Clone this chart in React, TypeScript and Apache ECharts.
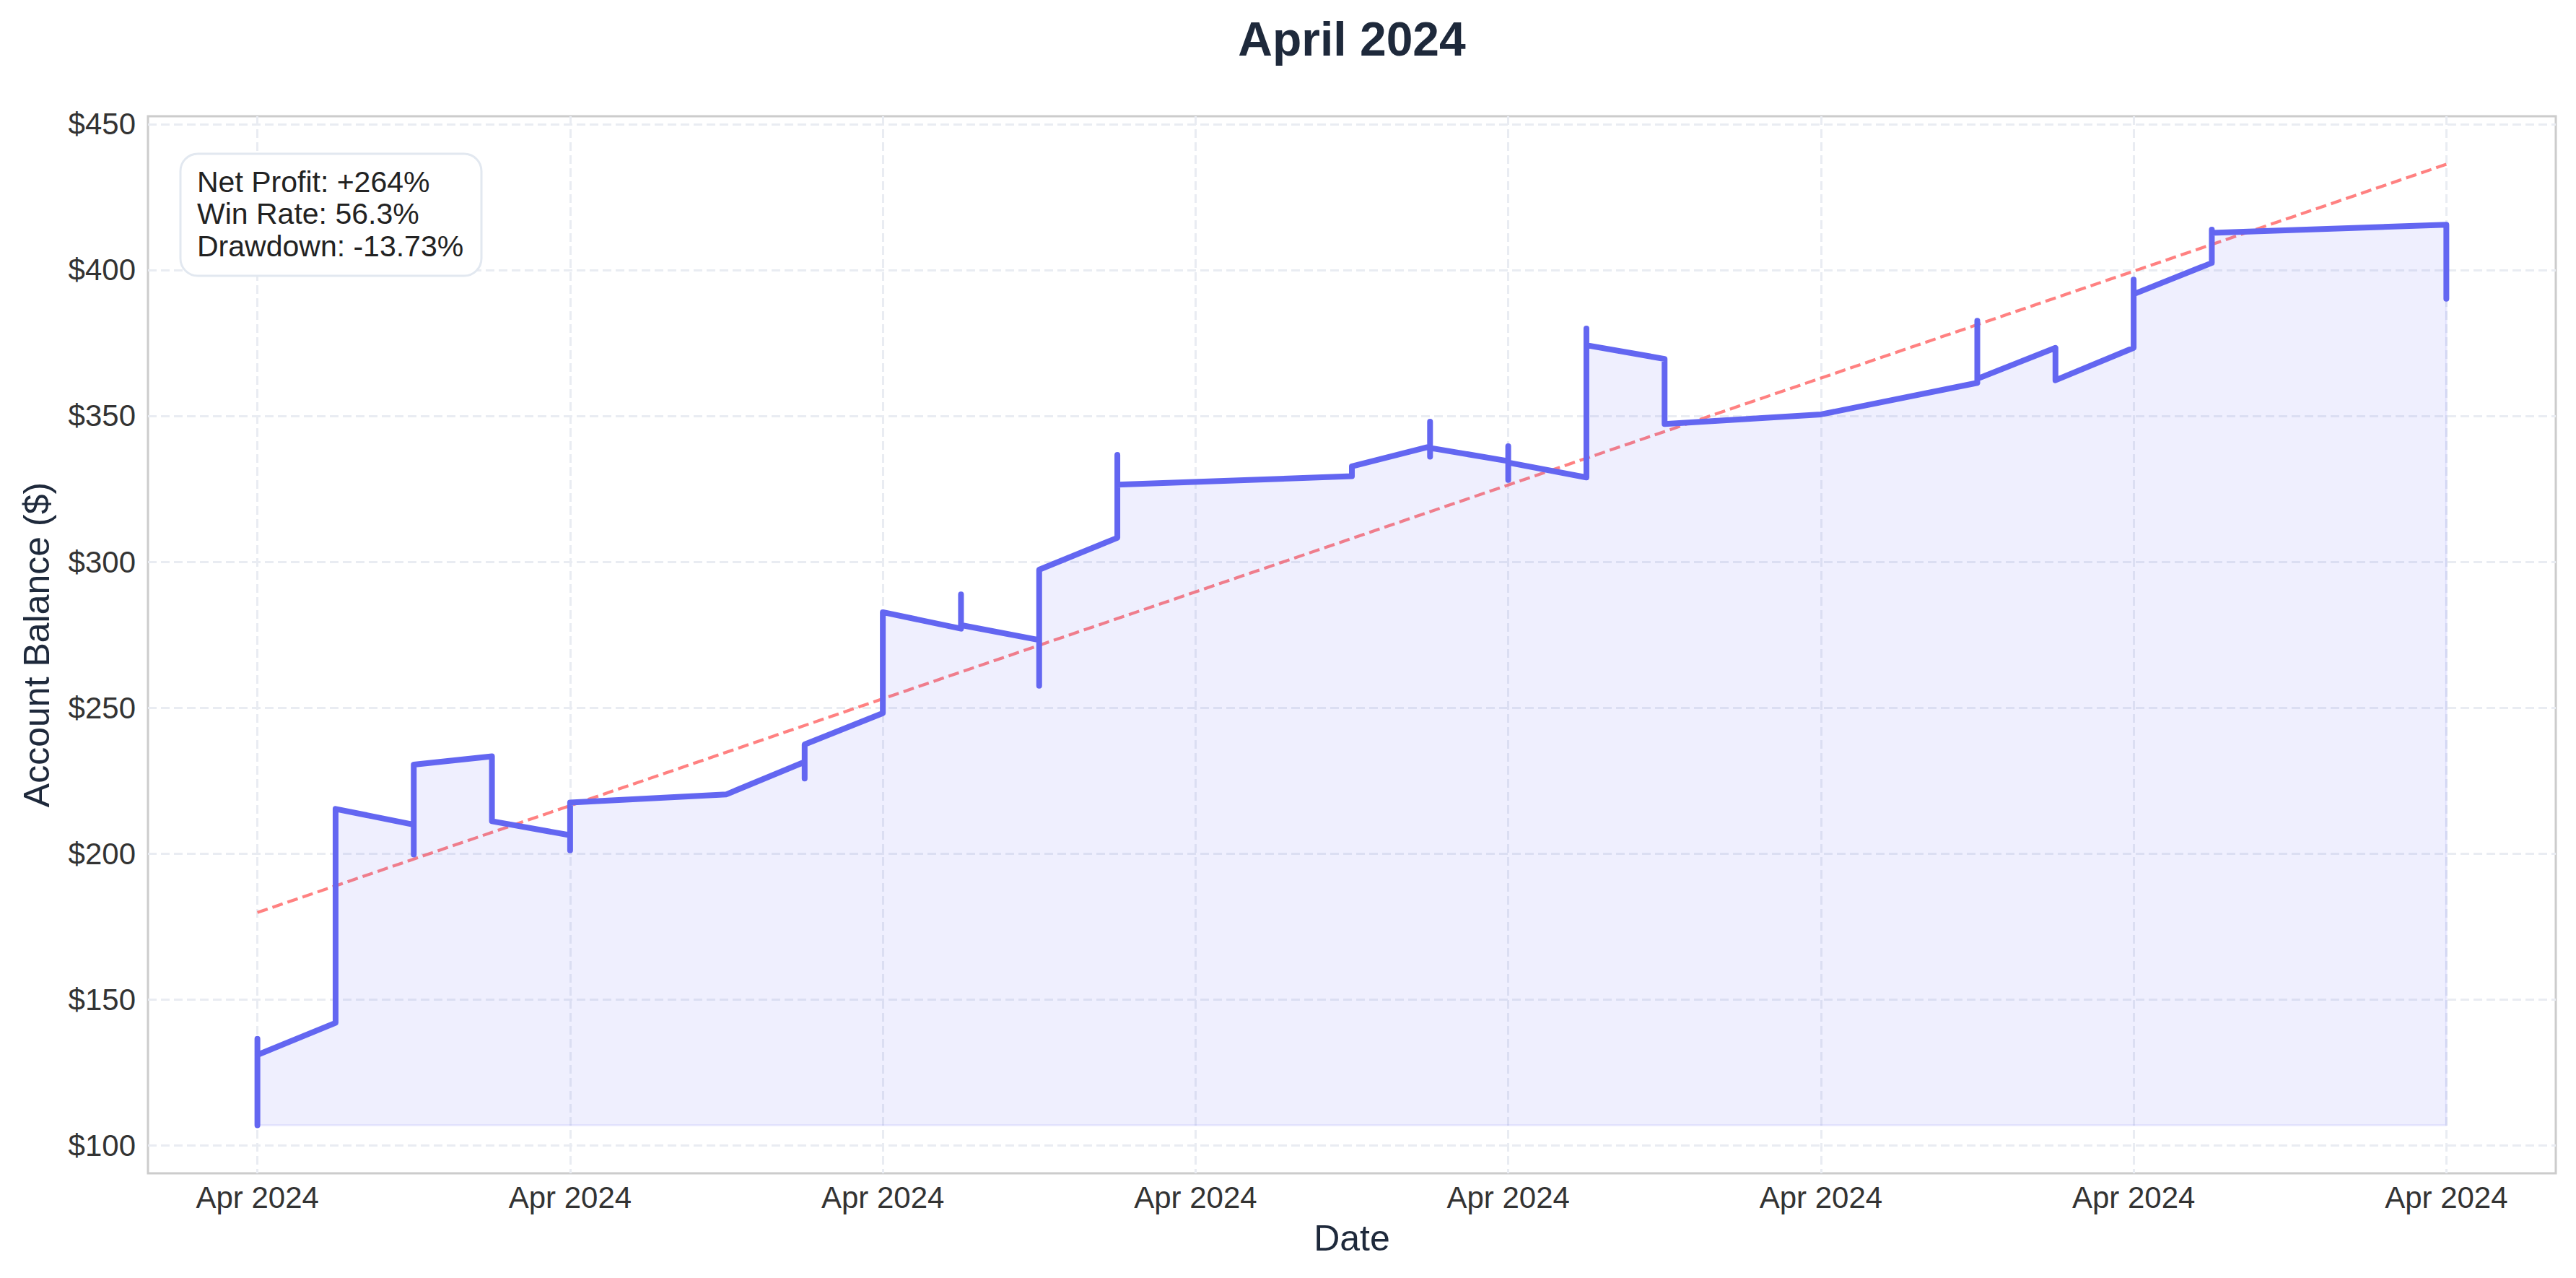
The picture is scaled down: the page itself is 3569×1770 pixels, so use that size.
import React, { useEffect, useRef } from 'react';
import * as echarts from 'echarts';

// ---- data ----
const tradeDates = [
  '2024-04-01', '2024-04-01', '2024-04-01',
  '2024-04-02', '2024-04-02',
  '2024-04-03', '2024-04-03', '2024-04-03',
  '2024-04-04', '2024-04-04',
  '2024-04-05', '2024-04-05', '2024-04-05',
  '2024-04-07',
  '2024-04-08', '2024-04-08', '2024-04-08',
  '2024-04-09', '2024-04-09',
  '2024-04-10', '2024-04-10', '2024-04-10',
  '2024-04-11', '2024-04-11', '2024-04-11',
  '2024-04-12', '2024-04-12', '2024-04-12',
  '2024-04-15', '2024-04-15',
  '2024-04-16', '2024-04-16', '2024-04-16', '2024-04-16',
  '2024-04-17', '2024-04-17', '2024-04-17', '2024-04-17',
  '2024-04-18', '2024-04-18', '2024-04-18',
  '2024-04-19', '2024-04-19',
  '2024-04-21',
  '2024-04-23', '2024-04-23', '2024-04-23',
  '2024-04-24', '2024-04-24',
  '2024-04-25', '2024-04-25', '2024-04-25',
  '2024-04-26', '2024-04-26', '2024-04-26',
  '2024-04-29', '2024-04-29',
];
const balances = [
  106.9, 136.5, 131.0,
  142.0, 215.3,
  209.9, 199.7, 230.5,
  233.3, 211.1,
  206.3, 201.1, 217.5,
  220.3,
  231.4, 225.7, 237.4,
  248.1, 282.7,
  277.1, 288.8, 278.3,
  273.2, 257.5, 297.3,
  308.2, 336.6, 326.4,
  329.3, 332.7,
  339.5, 348.0, 336.0, 339.0,
  334.5, 339.6, 328.0, 334.0,
  328.9, 379.9, 374.2,
  369.5, 347.2,
  350.5,
  361.3, 382.6, 362.7,
  373.3, 362.2,
  373.3, 396.7, 391.7,
  402.4, 413.8, 412.7,
  415.5, 390.1,
];
const trendDates = ['2024-04-01', '2024-04-29'];
const trendValues = [179.8, 436.2];
const xTickDates = [
  '2024-04-01', '2024-04-05', '2024-04-09', '2024-04-13',
  '2024-04-17', '2024-04-21', '2024-04-25', '2024-04-29',
];
const xTickLabels = [
  'Apr 2024', 'Apr 2024', 'Apr 2024', 'Apr 2024',
  'Apr 2024', 'Apr 2024', 'Apr 2024', 'Apr 2024',
];
const yTickValues = [100, 150, 200, 250, 300, 350, 400, 450];
const yTickLabels = ['$100', '$150', '$200', '$250', '$300', '$350', '$400', '$450'];
const statsLines = ['Net Profit: +264%', 'Win Rate: 56.3%', 'Drawdown: -13.73%'];
const chartTitle = 'April 2024';
const xAxisTitle = 'Date';
const yAxisTitle = 'Account Balance ($)';

const BASE = Date.parse('2024-04-01T00:00:00Z');
const dayOf = (d: string) => (Date.parse(d + 'T00:00:00Z') - BASE) / 86400000;

const FONT = '"Liberation Sans", Arial, Helvetica, sans-serif';

export default function App() {
  const ref = useRef<HTMLDivElement>(null);

  useEffect(() => {
    if (!ref.current) return;
    const chart = echarts.init(ref.current, undefined, { renderer: 'svg' });

    const lineData = tradeDates.map((d, i) => [dayOf(d), balances[i]]);
    const trendData = trendDates.map((d, i) => [dayOf(d), trendValues[i]]);
    const xTicks = xTickDates.map(dayOf);
    const xMin = Math.min(...lineData.map((p) => p[0]));
    const xMax = Math.max(...lineData.map((p) => p[0]));
    const xPad = (xMax - xMin) * 0.05;
    const allY = balances.concat(trendValues);
    const yLo = Math.min(...allY);
    const yHi = Math.max(...allY);
    const yPad = (yHi - yLo) * 0.05;
    const minBal = Math.min(...balances);
    const lastPoint = lineData[lineData.length - 1];
    const edgeData = [
      [lastPoint[0], lastPoint[1]],
      [xMax, minBal],
      [xMin, minBal],
    ];

    const gridColor = '#e9ecf2';

    const option: any = {
      animation: false,
      backgroundColor: '#ffffff',
      grid: {
        left: 205,
        top: 161,
        width: 3336,
        height: 1464,
        show: true,
        borderColor: '#cccccc',
        borderWidth: 3,
        backgroundColor: 'transparent',
        containLabel: false,
      },
      xAxis: {
        type: 'value',
        min: xMin - xPad,
        max: xMax + xPad,
        axisLine: { show: false },
        axisTick: { show: false, customValues: xTicks },
        axisLabel: {
          customValues: xTicks,
          margin: 12,
          fontSize: 42,
          fontFamily: FONT,
          color: '#333333',
          formatter: (v: number) => {
            const idx = xTicks.findIndex((t) => Math.abs(t - v) < 1e-6);
            return idx >= 0 ? xTickLabels[idx] : '';
          },
        },
        splitLine: {
          show: true,
          lineStyle: { color: gridColor, width: 3, type: [12, 6] },
        },
      },
      yAxis: {
        type: 'value',
        min: yLo - yPad,
        max: yHi + yPad,
        axisLine: { show: false },
        axisTick: { show: false, customValues: yTickValues },
        axisLabel: {
          customValues: yTickValues,
          margin: 17,
          fontSize: 42,
          fontFamily: FONT,
          color: '#333333',
          formatter: (v: number) => {
            const idx = yTickValues.findIndex((t) => Math.abs(t - v) < 1e-6);
            return idx >= 0 ? yTickLabels[idx] : '';
          },
        },
        splitLine: {
          show: true,
          lineStyle: { color: gridColor, width: 3, type: [12, 6] },
        },
      },
      series: [
        {
          type: 'line',
          data: edgeData,
          showSymbol: false,
          symbol: 'none',
          silent: true,
          lineStyle: { color: '#6366f1', width: 3, opacity: 0.1 },
          z: 1,
        },
        {
          type: 'line',
          data: lineData,
          showSymbol: false,
          symbol: 'none',
          lineStyle: { color: '#6366f1', width: 8, cap: 'round', join: 'round' },
          areaStyle: { color: '#6366f1', opacity: 0.1, origin: minBal },
          z: 3,
        },
        {
          type: 'line',
          data: trendData,
          showSymbol: false,
          symbol: 'none',
          lineStyle: { color: '#ff6b6b', width: 4.2, type: [15, 7], opacity: 0.85 },
          z: 2,
        },
      ],
      graphic: [
        {
          type: 'text',
          x: 1873,
          y: 54,
          z: 100,
          style: {
            text: chartTitle,
            font: `bold 66px ${FONT}`,
            fill: '#1e293b',
            align: 'center',
            verticalAlign: 'middle',
            textAlign: 'center',
            textVerticalAlign: 'middle',
          },
        },
        {
          type: 'text',
          x: 1873,
          y: 1715,
          z: 100,
          style: {
            text: xAxisTitle,
            font: `50px ${FONT}`,
            fill: '#1e293b',
            align: 'center',
            verticalAlign: 'middle',
            textAlign: 'center',
            textVerticalAlign: 'middle',
          },
        },
        {
          type: 'text',
          x: 51,
          y: 893,
          rotation: Math.PI / 2,
          z: 100,
          style: {
            text: yAxisTitle,
            font: `50px ${FONT}`,
            fill: '#1e293b',
            align: 'center',
            verticalAlign: 'middle',
            textAlign: 'center',
            textVerticalAlign: 'middle',
          },
        },
        {
          type: 'rect',
          z: 100,
          shape: { x: 250, y: 213, width: 417, height: 169, r: 24 },
          style: { fill: '#ffffff', stroke: '#e2e8f0', lineWidth: 3 },
        },
        ...statsLines.map((t, i) => ({
          type: 'text',
          x: 273,
          y: 252 + i * 44.3,
          z: 101,
          style: {
            text: t,
            font: `41px ${FONT}`,
            fill: '#222222',
            align: 'left',
            verticalAlign: 'middle',
            textAlign: 'left',
            textVerticalAlign: 'middle',
          },
        })),
      ],
    };

    chart.setOption(option);
    return () => chart.dispose();
  }, []);

  return (
    <div
      ref={ref}
      style={{ position: 'absolute', left: 0, top: 0, width: 3569, height: 1770 }}
    />
  );
}
